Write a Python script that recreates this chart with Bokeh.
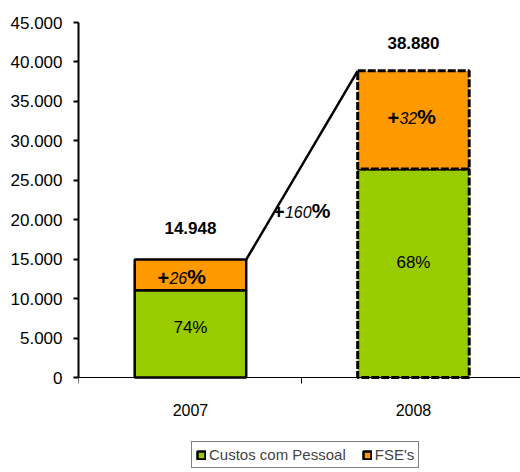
from bokeh.plotting import figure
from bokeh.models import FixedTicker, Range1d, Legend, LegendItem
from bokeh.core.properties import value
from bokeh.embed import file_html
from bokeh.resources import INLINE

# ---- data ----
years = ["2007", "2008"]
pessoal = [11062, 26438]
fse = [3886, 12442]
totals = [14948, 38880]
pessoal_pct = ["74%", "68%"]
fse_pct = ["26", "32"]
growth_pct = "160"
y_ticks = [0, 5000, 10000, 15000, 20000, 25000, 30000, 35000, 40000, 45000]

GREEN = "#99CC00"
ORANGE = "#FF9900"
FONT = "Liberation Sans"


def fmt(v):
    return f"{v:,}".replace(",", ".")


xs = list(range(len(years)))
y_top = y_ticks[-1]
# frame: 450px tall, the 0..45000 part occupies the upper 355px
y_bottom = -(450 - 355) * y_top / 355

p = figure(width=520, height=472, output_backend="svg", toolbar_location=None,
           x_range=Range1d(-0.502, 1.48), y_range=Range1d(y_bottom, y_top),
           min_border_left=78, min_border_right=0, min_border_top=22,
           min_border_bottom=0)
p.grid.visible = False
p.outline_line_color = None
p.background_fill_color = "white"

rend_g = []
rend_o = []
for i in xs:
    dash = "solid" if i == 0 else "8 2"
    lw = 2.5 if i == 0 else 3
    rg = p.vbar(x=[xs[i]], bottom=[0], top=[pessoal[i]], width=0.5,
                fill_color=GREEN, line_color="black", line_width=lw, line_dash=dash)
    ro = p.vbar(x=[xs[i]], bottom=[pessoal[i]], top=[pessoal[i] + fse[i]], width=0.5,
                fill_color=ORANGE, line_color="black", line_width=lw, line_dash=dash)
    rend_g.append(rg)
    rend_o.append(ro)

# connector line between bar tops
p.line(x=[xs[0] + 0.25, xs[1] - 0.25], y=[totals[0], totals[1]],
       line_color="black", line_width=2.5)

# totals above bars
p.text(x=xs, y=totals, text=[fmt(t) for t in totals], text_font=value(FONT),
       text_font_style="bold", text_font_size="17px", text_align="center",
       text_baseline="middle", y_offset=[-32, -28], text_color="black")

# pessoal share
p.text(x=xs, y=[v / 2 for v in pessoal], text=pessoal_pct, text_font=value(FONT),
       text_font_size="17px", text_align="center", text_baseline="middle",
       y_offset=[-6, -11], text_color="black")


def composite(x, y, num, starts, yoff):
    p.text(x=x, y=y, text=["+"] * len(x), text_font=value(FONT), text_font_style="bold",
           text_font_size="20px", text_align="left", text_baseline="middle",
           x_offset=starts, y_offset=yoff, text_color="black")
    p.text(x=x, y=y, text=num, text_font=value(FONT), text_font_style="italic",
           text_font_size="16px", text_align="left", text_baseline="middle",
           x_offset=[s + 12 for s in starts], y_offset=yoff, text_color="black")
    p.text(x=x, y=y, text=["%"] * len(x), text_font=value(FONT), text_font_style="bold",
           text_font_size="21px", text_align="left", text_baseline="middle",
           x_offset=[s + 12 + 8.9 * len(n) for s, n in zip(starts, num)],
           y_offset=[v - 1 for v in yoff], text_color="black")


composite(xs, [(pessoal[i] + totals[i]) / 2 for i in xs], fse_pct, [-33, -26], [3, -2])
composite([(xs[0] + xs[1]) / 2], [totals[0]], [growth_pct], [-29], [-48])

# axes
p.yaxis.ticker = FixedTicker(ticks=y_ticks)
p.yaxis.bounds = (0, y_top)
p.yaxis.major_label_overrides = {t: fmt(t) for t in y_ticks}
p.yaxis.major_label_text_font = FONT
p.yaxis.major_label_text_font_size = "17px"
p.yaxis.major_label_text_color = "black"
p.yaxis.axis_line_width = 2
p.yaxis.axis_line_color = "black"
p.yaxis.major_tick_out = 5
p.yaxis.major_tick_in = 0
p.yaxis.major_tick_line_width = 2
p.yaxis.minor_tick_out = 0
p.yaxis.minor_tick_in = 0
p.yaxis.major_label_standoff = 11

p.xaxis.fixed_location = 0
p.xaxis.ticker = FixedTicker(ticks=xs, minor_ticks=[-0.5, 0.5, 1.5])
p.xaxis.major_label_overrides = {i: years[i] for i in xs}
p.xaxis.major_label_text_font = FONT
p.xaxis.major_label_text_font_size = "16px"
p.xaxis.major_label_text_color = "black"
p.xaxis.major_tick_out = 0
p.xaxis.major_tick_in = 0
p.xaxis.minor_tick_out = 6
p.xaxis.minor_tick_in = 0
p.xaxis.minor_tick_line_color = "black"
p.xaxis.axis_line_color = "black"
p.xaxis.axis_line_width = 1
p.xaxis.major_label_standoff = 20

legend = Legend(items=[LegendItem(label="Custos com Pessoal", renderers=[rend_g[0]]),
                       LegendItem(label="FSE's", renderers=[rend_o[0]])],
                orientation="horizontal", location=(113, 4),
                border_line_color="black", border_line_width=1,
                glyph_width=10, glyph_height=10, label_text_font=FONT,
                label_text_font_size="15px", label_standoff=3, spacing=16,
                padding=4, margin=0, label_height=13, background_fill_alpha=1)
p.add_layout(legend)

open("out.html", "w").write(file_html(p, INLINE))
